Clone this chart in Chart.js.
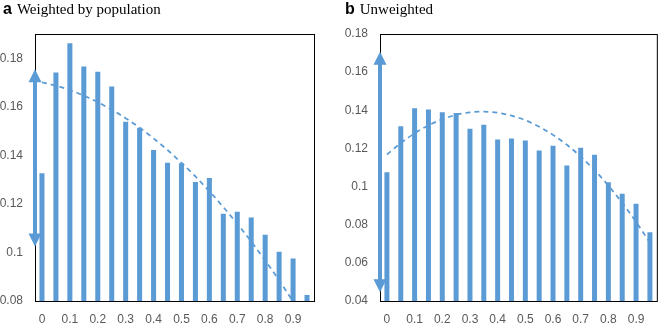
<!DOCTYPE html>
<html>
<head>
<meta charset="utf-8">
<script src="https://cdn.jsdelivr.net/npm/chart.js@4/dist/chart.umd.min.js"></script>
<style>
  html, body { margin: 0; padding: 0; background: #fff; }
  #wrap { position: relative; width: 661px; height: 324px; overflow: hidden; background: #fff; }
  .panel { position: absolute; top: 0; height: 324px; }
  .title { position: absolute; top: 1px; white-space: nowrap; line-height: 16px; color: #000; }
  .title .lt { font-family: "Liberation Sans", Arial, sans-serif; font-weight: bold; font-size: 16px; margin-right: 5px; }
  .title .tx { font-family: "Liberation Serif", "Times New Roman", serif; font-size: 15px; }
</style>
</head>
<body>
<div id="wrap">
  <div class="panel" style="left:0;width:330px;"><canvas id="c1" width="330" height="324"></canvas></div>
  <div class="panel" style="left:330px;width:331px;"><canvas id="c2" width="331" height="324"></canvas></div>
  <div class="title" style="left:3px;"><span class="lt">a</span><span class="tx">Weighted by population</span></div>
  <div class="title" style="left:345px;"><span class="lt">b</span><span class="tx">Unweighted</span></div>
</div>
<script>
const categories = ['0','0.05','0.1','0.15','0.2','0.25','0.3','0.35','0.4','0.45','0.5','0.55','0.6','0.65','0.7','0.75','0.8','0.85','0.9','0.95'];

const weightedValues = [0.1326,0.1741,0.1862,0.1766,0.1744,0.1684,0.1538,0.1514,0.1422,0.1370,0.1367,0.1290,0.1307,0.1159,0.1168,0.1144,0.1073,0.1003,0.0975,0.0825];
const weightedTrend  = [0.1701,0.1687,0.1669,0.1646,0.1619,0.1588,0.1553,0.1514,0.1470,0.1422,0.1369,0.1313,0.1252,0.1187,0.1118,0.1045,0.0967,0.0885,0.0798,0.0708];
const weightedYTicks = [0.08,0.1,0.12,0.14,0.16,0.18];
const weightedRange  = [0.08,0.19];
const weightedArrow  = [0.1755,0.1025];

const unweightedValues = [0.1075,0.1316,0.1411,0.1404,0.1390,0.1386,0.1303,0.1324,0.1247,0.1252,0.1241,0.1189,0.1214,0.1111,0.1203,0.1167,0.1023,0.0962,0.0910,0.0761];
const unweightedTrend  = [0.1168,0.1228,0.1279,0.1321,0.1353,0.1376,0.1389,0.1393,0.1387,0.1372,0.1348,0.1314,0.1271,0.1219,0.1157,0.1086,0.1005,0.0915,0.0815,0.0706];
const unweightedYTicks = [0.04,0.06,0.08,0.1,0.12,0.14,0.16,0.18];
const unweightedRange  = [0.04,0.18];
const unweightedArrow  = [0.1707,0.0446];

const BLUE = '#5B9BD5';
const TICK_COLOR = '#595959';

const frameAndArrow = {
  id: 'frameAndArrow',
  beforeDatasetsDraw(chart) {
    const {ctx, chartArea: a} = chart;
    ctx.save();
    ctx.strokeStyle = '#000';
    ctx.lineWidth = 1;
    ctx.strokeRect(a.left + 0.5, a.top + 0.5, a.right - a.left, a.bottom - a.top);
    ctx.restore();
  },
  afterDatasetsDraw(chart, args, opts) {
    const arrow = opts.values;
    if (!arrow) return;
    const {ctx, chartArea: a} = chart;
    const y = chart.scales.y;
    const x = a.left;
    const yTop = y.getPixelForValue(arrow[0]);
    const yBot = y.getPixelForValue(arrow[1]);
    const hh = 13, hw = 6.5;
    ctx.save();
    ctx.strokeStyle = BLUE;
    ctx.fillStyle = BLUE;
    ctx.lineWidth = 4;
    ctx.beginPath();
    ctx.moveTo(x, yTop + hh - 1);
    ctx.lineTo(x, yBot - hh + 1);
    ctx.stroke();
    ctx.beginPath();
    ctx.moveTo(x, yTop);
    ctx.lineTo(x - hw, yTop + hh);
    ctx.lineTo(x + hw, yTop + hh);
    ctx.closePath();
    ctx.fill();
    ctx.beginPath();
    ctx.moveTo(x, yBot);
    ctx.lineTo(x - hw, yBot - hh);
    ctx.lineTo(x + hw, yBot - hh);
    ctx.closePath();
    ctx.fill();
    ctx.restore();
  }
};

function makeChart(id, values, trend, yTicks, range, arrow, yWidth, padRight) {
  return new Chart(document.getElementById(id), {
    type: 'bar',
    data: {
      labels: categories,
      datasets: [
        {
          type: 'line',
          data: trend,
          borderColor: BLUE,
          borderWidth: 1.75,
          borderDash: [5, 4],
          pointRadius: 0,
          fill: false,
          cubicInterpolationMode: 'monotone',
          order: 0
        },
        {
          type: 'bar',
          data: values,
          backgroundColor: BLUE,
          borderWidth: 0,
          categoryPercentage: 1,
          barPercentage: 0.36,
          order: 1
        }
      ]
    },
    options: {
      responsive: false,
      animation: false,
      devicePixelRatio: 1,
      layout: { padding: { top: 34, right: padRight, left: 0, bottom: 0 } },
      plugins: {
        legend: { display: false },
        tooltip: { enabled: false },
        title: { display: false },
        frameAndArrow: { values: arrow }
      },
      scales: {
        x: {
          offset: true,
          grid: { display: false, drawTicks: false },
          border: { display: false },
          ticks: {
            autoSkip: false,
            maxRotation: 0,
            padding: 11,
            color: TICK_COLOR,
            font: { family: 'Liberation Sans', size: 12 },
            callback: function(v, i) { return i % 2 === 0 ? categories[i] : ''; }
          },
          afterFit: function(s) { s.height = 23; }
        },
        y: {
          min: range[0],
          max: range[1],
          grid: { display: false, drawTicks: false },
          border: { display: false },
          afterBuildTicks: function(s) { s.ticks = yTicks.map(v => ({ value: v })); },
          ticks: {
            padding: 12,
            color: TICK_COLOR,
            font: { family: 'Liberation Sans', size: 12 },
            callback: function(v) { return String(Math.round(v * 1000) / 1000); }
          },
          afterFit: function(s) { s.width = yWidth; }
        }
      }
    },
    plugins: [frameAndArrow]
  });
}

makeChart('c1', weightedValues, weightedTrend, weightedYTicks, weightedRange, weightedArrow, 35, 16);
makeChart('c2', unweightedValues, unweightedTrend, unweightedYTicks, unweightedRange, unweightedArrow, 50, 4);
</script>
</body>
</html>
